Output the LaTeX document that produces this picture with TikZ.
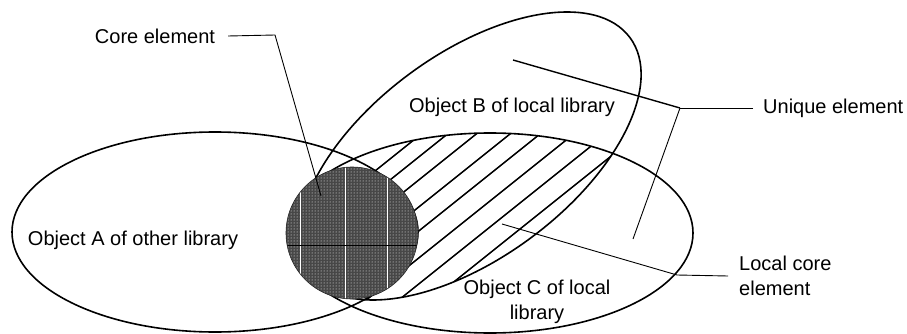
\documentclass[tikz,border=0pt]{standalone}
\usepackage{fontspec}
\setmainfont{Liberation Sans}
\usetikzlibrary{patterns}
\begin{document}
\begin{tikzpicture}[x=1pt,y=-1pt,
  outline/.style={line width=1.6pt},
  hatchline/.style={line width=1.5pt},
  leader/.style={line width=0.9pt},
  thickleader/.style={line width=1.4pt},
  lbl/.style={font=\fontsize{20}{25.5}\selectfont, inner sep=0pt}]
\useasboundingbox (0,0) rectangle (907,334);
% hatching of B and C
\begin{scope}
  \clip[shift={(470,156)},rotate=36.5] (0,0) ellipse [x radius=199pt, y radius=102pt];
  \clip (490,233) ellipse [x radius=203pt, y radius=100pt];
  \foreach \c in {471,492,515,542,566,593,619,645}
    \draw[hatchline] (300,\c-240) -- (700,\c-560);
\end{scope}
% ellipses
\draw[outline] (215,232) ellipse [x radius=203pt, y radius=100pt];
\draw[outline] (490,233) ellipse [x radius=203pt, y radius=100pt];
\draw[outline,shift={(470,156)},rotate=36.5] (0,0) ellipse [x radius=199pt, y radius=102pt];
% core circle
\fill[black!72] (352,233) circle [radius=66pt];
\fill[pattern=dots, pattern color=white] (352,233) circle [radius=66pt];
\begin{scope}
  \clip (352,233) circle [radius=66pt];
  \foreach \xv in {300,345,387} \draw[white, line width=1pt] (\xv,160) -- (\xv,310);
  \draw[black, line width=1pt] (280,245) -- (425,245);
\end{scope}
\draw[black!85, line width=0.6pt] (352,233) circle [radius=66pt];
% labels
\node[lbl] (core) at (155,36) {Core element};
\node[lbl] (objA) at (133,240) {Object A of other library};
\node[lbl] (objB) at (512,107) {Object B of local library};
\node[lbl, align=center] (objC) at (537,302) {Object C of local\\library};
\node[lbl, anchor=west] (uniq) at (763,108) {Unique element};
\node[lbl, anchor=west, align=left] (lcore) at (739,276) {Local core\\element};
% leaders
\coordinate (cbend) at (275,35);
\coordinate (cend) at (321,196);
\draw[leader] ([xshift=13pt]core.east) -- (cbend) -- (cend);
\coordinate (ujoin) at (680,108);
\coordinate (uB) at (513,60);
\coordinate (uC) at (633,239);
\draw[leader] ([xshift=-10pt]uniq.west) -- (ujoin);
\draw[thickleader] (ujoin) -- (uB);
\draw[leader] (ujoin) -- (uC);
\coordinate (ljoin) at (677,275);
\coordinate (lend) at (502,224);
\draw[leader] ([xshift=-11pt]lcore.west) -- (ljoin) -- (lend);
\end{tikzpicture}
\end{document}
